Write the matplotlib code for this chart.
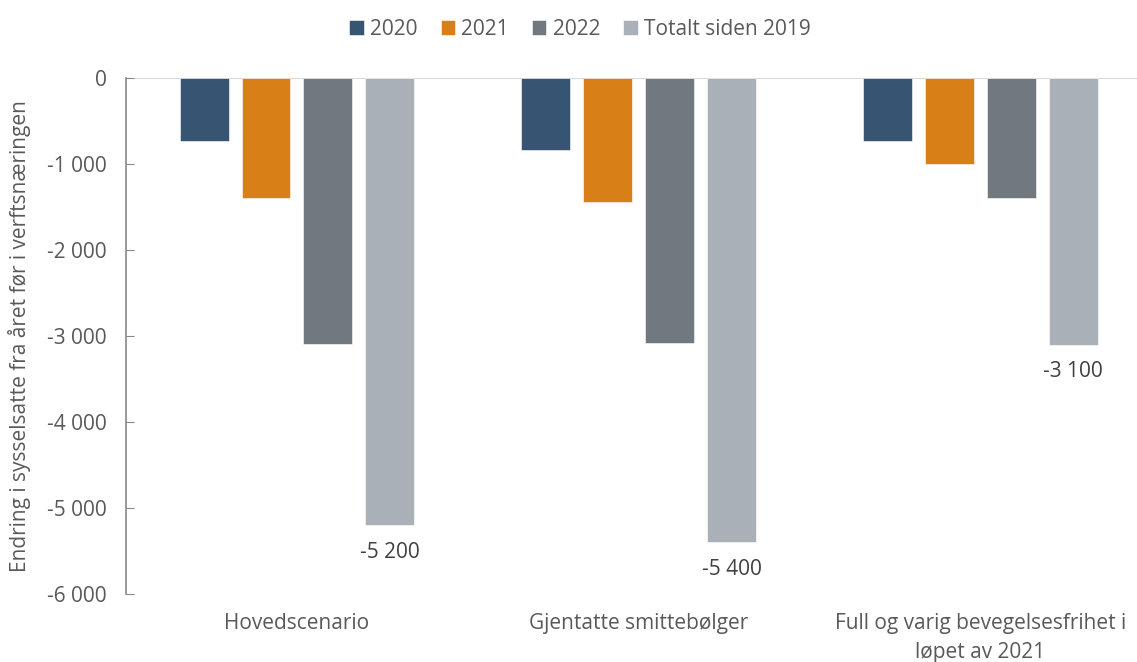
import numpy as np
from matplotlib import pyplot as plt
from matplotlib.ticker import FuncFormatter

categories = ["Hovedscenario", "Gjentatte smittebølger", "Full og varig bevegelsesfrihet i\nløpet av 2021"]
series = ["2020", "2021", "2022", "Totalt siden 2019"]
v2020 = [-730, -840, -730]
v2021 = [-1400, -1440, -1000]
v2022 = [-3090, -3080, -1390]
total = [-5200, -5400, -3100]
colors = ["#375572", "#D87F17", "#72787F", "#A9B0B7"]

plt.rcParams.update({"font.family": ["Open Sans", "DejaVu Sans"], "font.size": 15})

fig = plt.figure(figsize=(11.37, 6.62), dpi=100)
ax = fig.add_axes([126 / 1137, 68 / 662, 1 - 126 / 1137, 516 / 662])

x = np.arange(len(categories))
step = 0.181
width = 0.143
for i, (vals, name) in enumerate(zip([v2020, v2021, v2022, total], series)):
    ax.bar(x + (i - 1.5) * step, vals, width, color=colors[i], label=name,
           edgecolor="white", linewidth=0.4)

# labels under the total bars
for xi, v in zip(x, total):
    ax.annotate(f"{v:,}".replace(",", " "), (xi + 1.5 * step, v), xytext=(0, -12),
                textcoords="offset points", ha="center", va="top", color="#404040", fontsize=15)

ax.axhline(0, color="#D9D9D9", linewidth=1.5, zorder=0)
ax.set_ylim(-6000, 0)
ax.set_xlim(-0.5, 2.458)
ax.set_yticks(range(-6000, 1, 1000))
ax.yaxis.set_major_formatter(FuncFormatter(lambda v, p: f"{int(v):,}".replace(",", " ")))
ax.set_xticks(x)
ax.set_xticklabels(categories, linespacing=1.45)
ax.tick_params(axis="x", length=0, pad=14, colors="#595959")
ax.tick_params(axis="y", direction="in", length=6, color="#888888", labelcolor="#595959", pad=14)
for s in ["top", "right", "bottom"]:
    ax.spines[s].set_visible(False)
ax.spines["left"].set_color("#888888")
ax.spines["left"].set_linewidth(1.2)

ax.set_ylabel("Endring i sysselsatte fra året før i verftsnæringen", color="#595959")
ax.yaxis.set_label_coords(-0.094, 0.5)

fig.legend(loc="upper center", bbox_to_anchor=(580 / 1137, 1.0), ncol=4, frameon=False,
           handlelength=0.7, handleheight=0.7, handletextpad=0.3, columnspacing=1.1,
           labelcolor="#595959", fontsize=15)

plt.savefig("out.png", dpi=100)
